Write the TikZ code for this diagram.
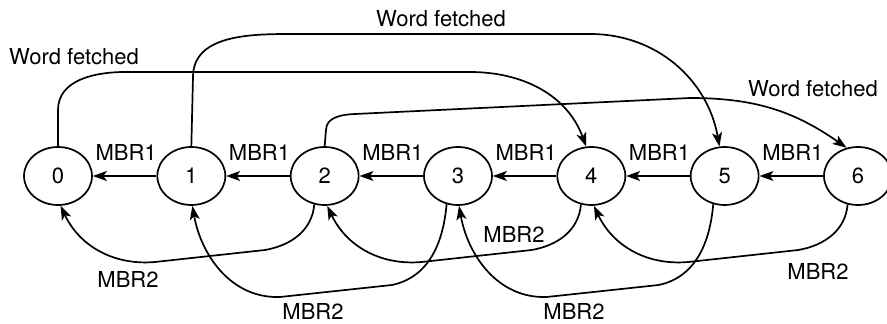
\documentclass[tikz,border=0pt]{standalone}
\usepackage{fontspec}
\setmainfont{TeX Gyre Heros}
\usetikzlibrary{shapes.geometric,arrows.meta}
\tikzset{
  cell/.style={ellipse,draw,line width=1.7pt,minimum width=68pt,minimum height=58pt,inner sep=0pt},
  wire/.style={line width=1.7pt,-{Stealth[length=14pt,width=10pt,inset=3.5pt]}},
  txt/.style={font=\fontsize{22}{26}\selectfont,inner sep=0pt},
  mbr/.style={txt,anchor=base,yshift=15pt,xshift=1.5pt}
}

\begin{document}
\begin{tikzpicture}[x=1pt,y=1pt]
\useasboundingbox (0,0) rectangle (887,324);
% the seven cells
\foreach \i in {0,...,6}
  \node[cell,txt] (n\i) at (58+133.33*\i,148) {\i};
% MBR1 links
\foreach \i in {1,...,6}{
  \pgfmathtruncatemacro\j{\i-1}
  \draw[wire] (n\i) -- node[mbr] (m\j) {MBR1} (n\j);
}
% word fetched
\draw[wire] (n0.north) -- (58,214) to[out=90,in=180] (125,252) -- (470,252) to[out=0,in=110] (n4.100);
\draw[wire] (n1.north) -- (193,247) to[out=90,in=180] (290,290) -- (590,290) to[out=0,in=100] (n5.100);
\draw[wire] (n2.north) -- (326,194) to[out=90,in=182] (355,210) -- (690,226) to[out=0,in=145] (n6.112);
\node[txt,anchor=base] (w0) at (74,259) {Word fetched};
\node[txt,anchor=base] (w1) at (441,297) {Word fetched};
\node[txt,anchor=base] (w2) at (813,227) {Word fetched};
% MBR2 links
\foreach \a/\b/\k in {2/0/0,4/2/1,6/4/2}
  \draw[wire] (n\a.250) to[out=-95,in=10] (265+266.67*\k,74) -- (155+266.67*\k,62) to[out=185,in=-65] (n\b.275);
\foreach \a/\b/\k in {3/1/0,5/3/1}
  \draw[wire] (n\a.248) to[out=-95,in=12] (392+266.67*\k,39) -- (280+266.67*\k,27) to[out=182,in=-80] (n\b.272);
\node[txt,anchor=base] (r0) at (128,36) {MBR2};
\node[txt,anchor=base] (r1) at (313,4) {MBR2};
\node[txt,anchor=base] (r2) at (514,81) {MBR2};
\node[txt,anchor=base] (r3) at (574,4) {MBR2};
\node[txt,anchor=base] (r4) at (818,44) {MBR2};

\end{tikzpicture}
\end{document}
